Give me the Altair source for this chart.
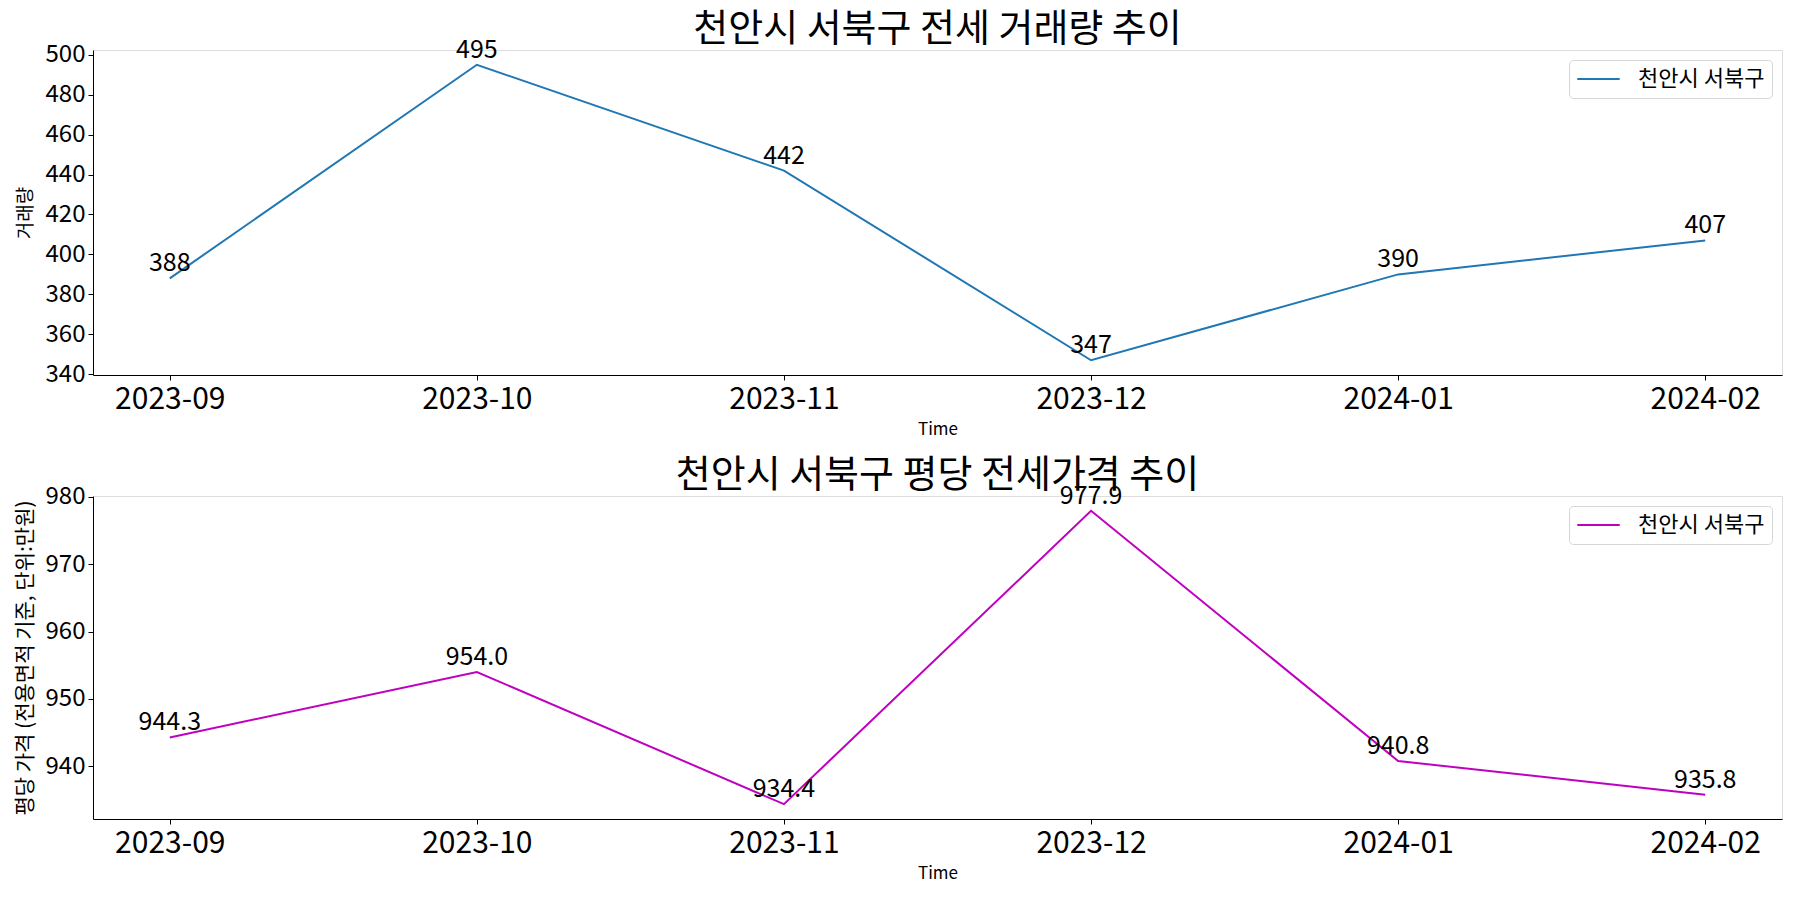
import altair as alt
import pandas as pd

months = ["2023-09", "2023-10", "2023-11", "2023-12", "2024-01", "2024-02"]
volume = [388, 495, 442, 347, 390, 407]
price = [944.3, 954.0, 934.4, 977.9, 940.8, 935.8]
region = "천안시 서북구"

FONT = "Noto Sans CJK KR"

df1 = pd.DataFrame({"month": months, "value": volume, "label": [str(v) for v in volume], "region": region})
df2 = pd.DataFrame({"month": months, "value": price, "label": [f"{v:.1f}" for v in price], "region": region})

W = 1689


def xenc():
    return alt.X("month:O", title="Time",
                 scale=alt.Scale(type="point", padding=0.25),
                 axis=alt.Axis(labelAngle=0, labelFontSize=30, titleFontSize=17,
                               labelFont=FONT, titleFont=FONT, titleFontWeight="normal",
                               tickSize=5, labelPadding=4, titlePadding=7,
                               domainColor="black", tickColor="black", labelColor="black",
                               titleColor="black", grid=False))


def panel(df, color, domain, ticks, ytitle, ytitle_size, title, height):
    y = alt.Y("value:Q", title=ytitle,
              scale=alt.Scale(domain=domain, nice=False, zero=False),
              axis=alt.Axis(values=ticks, labelFontSize=24, titleFontSize=ytitle_size,
                            labelFont=FONT, titleFont=FONT, titleFontWeight="normal",
                            tickSize=5, labelPadding=3, titlePadding=10,
                            domainColor="black", tickColor="black", labelColor="black",
                            titleColor="black", grid=False, format="d"))
    line = alt.Chart(df).mark_line(strokeWidth=2).encode(
        x=xenc(), y=y,
        color=alt.Color("region:N", scale=alt.Scale(range=[color]),
                        legend=alt.Legend(title=None, orient="top-right", offset=10,
                                          labelFontSize=22, labelFont=FONT, labelColor="black",
                                          symbolType="stroke", symbolSize=1800,
                                          symbolStrokeWidth=2, clipHeight=24,
                                          strokeColor="#d6d6d6", fillColor="white",
                                          padding=7, cornerRadius=4, labelOffset=17)),
    )
    text = alt.Chart(df).mark_text(fontSize=25, font=FONT, baseline="alphabetic",
                                   dy=-7, color="black").encode(
        x=alt.X("month:O", scale=alt.Scale(type="point", padding=0.25)),
        y=alt.Y("value:Q"),
        text="label:N",
    )
    return alt.layer(line, text).properties(
        width=W, height=height,
        title=alt.TitleParams(title, fontSize=38, font=FONT, fontWeight="normal",
                              color="black", offset=-11, anchor="middle"),
    )


top = panel(df1, "#1f77b4", [339.6, 502.4], list(range(340, 501, 20)), "거래량", 19,
            "천안시 서북구 전세 거래량 추이", 325)
bottom = panel(df2, "#bf00bf", [932.2, 980.1], [940, 950, 960, 970, 980],
               "평당 가격 (전용면적 기준, 단위:만원)", 21, "천안시 서북구 평당 전세가격 추이", 323)

chart = alt.vconcat(top, bottom, spacing=18).resolve_scale(color="independent").properties(
    padding={"left": 13, "top": 10, "right": 5, "bottom": 5}
).configure_view(stroke="black", strokeWidth=1.3).configure(background="white")

chart.save("out.html", embed_options={"renderer": "svg", "actions": False})
